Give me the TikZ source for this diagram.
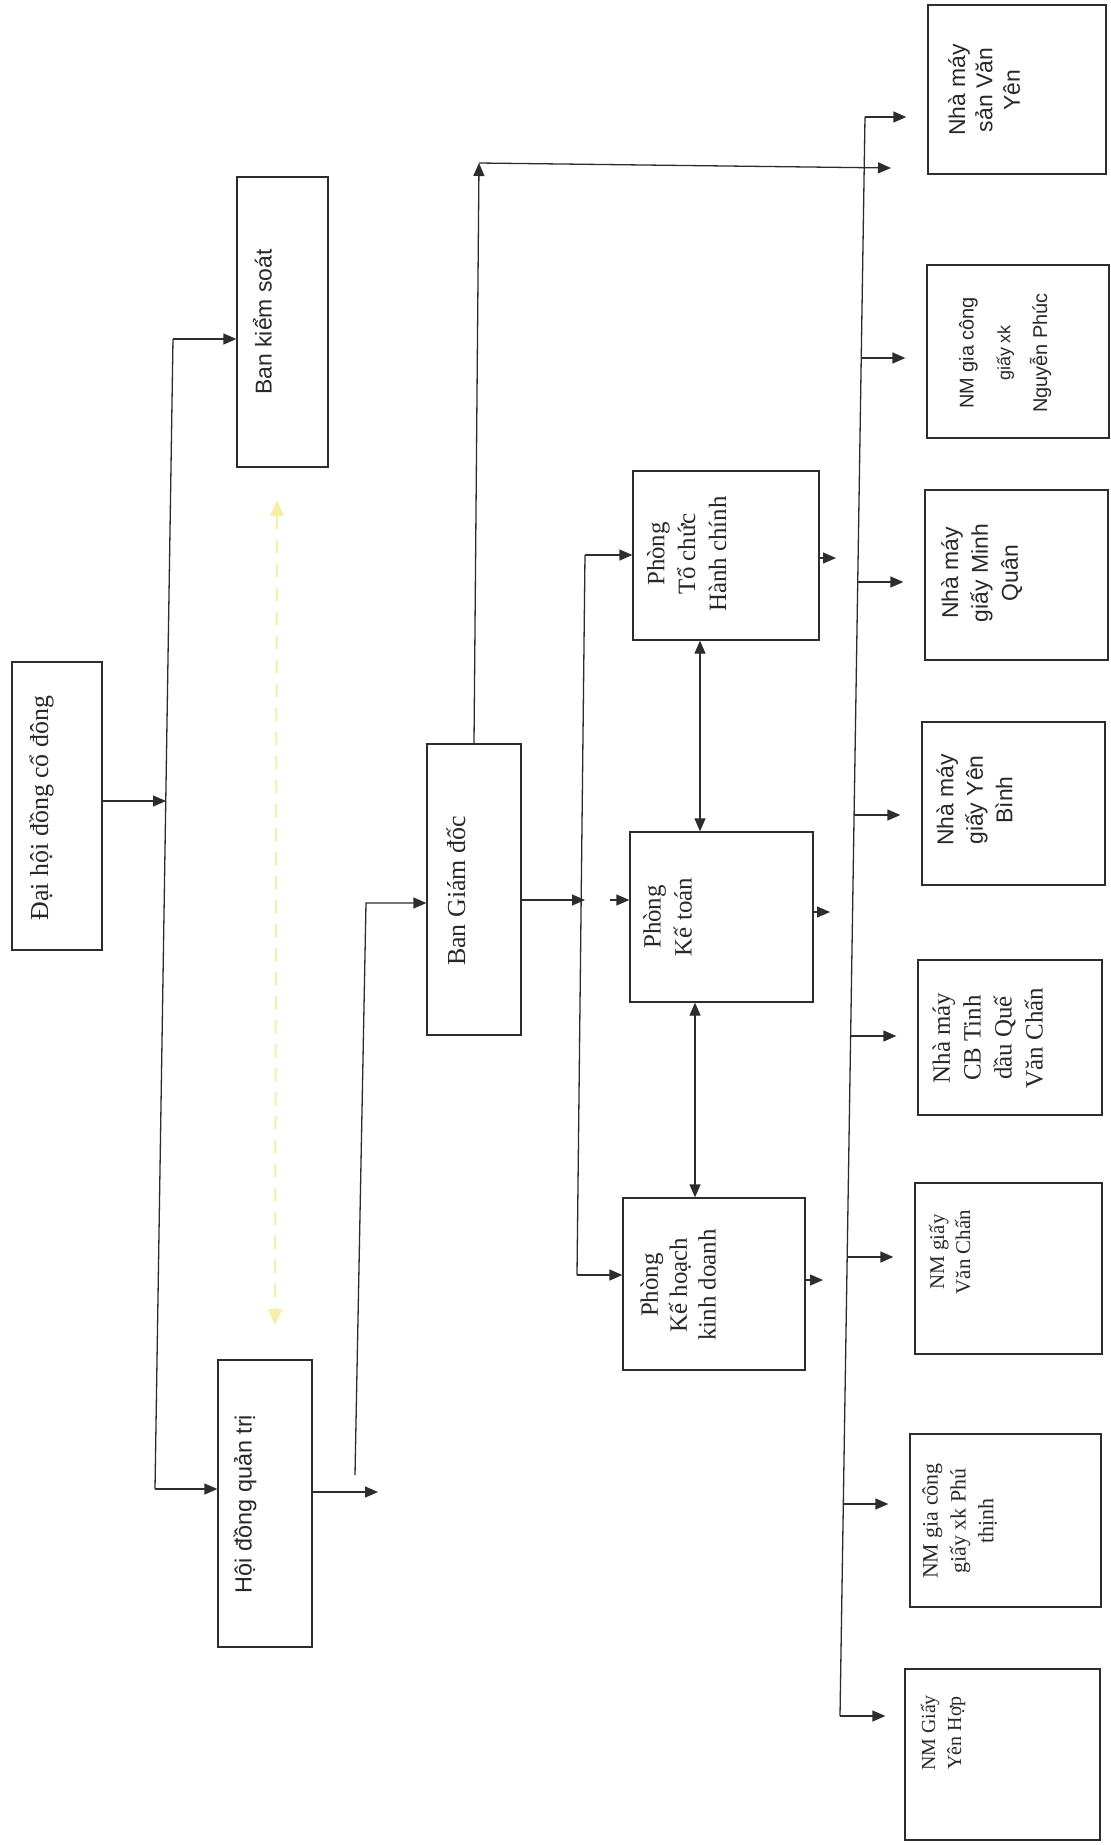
\documentclass[tikz,border=0pt]{standalone}
\usepackage{fontspec}
\setmainfont{Liberation Serif}
\newfontfamily\sansf{Liberation Sans}
\usepackage{graphicx}
\usetikzlibrary{arrows.meta}
\definecolor{ln}{RGB}{45,45,45}
\definecolor{tx}{RGB}{40,40,40}
\definecolor{faintc}{RGB}{246,238,170}
\tikzset{
  box/.style={draw=ln, line width=1.3bp, inner sep=0pt},
  lbl/.style={inner sep=0pt, text=tx},
  conn/.style={draw=ln, line width=1.3bp},
  arr/.style={conn, -{Triangle[length=13bp,width=11bp]}},
  darr/.style={conn, {Triangle[length=13bp,width=11bp]}-{Triangle[length=13bp,width=11bp]}},
  faintarr/.style={draw=faintc, line width=2bp, dash pattern=on 14bp off 10bp,
    {Triangle[length=16bp,width=14bp]}-{Triangle[length=16bp,width=14bp]}},
}
\newcommand{\rottxt}[2]{\rotatebox{90}{#1\begin{tabular}{@{}c@{}}#2\end{tabular}}}
\begin{document}
\begin{tikzpicture}[x=1bp,y=-1bp]
\useasboundingbox[fill=white] (0,0) rectangle (1110,1845);

% ---- left column
\node[box,minimum width=90bp,minimum height=288bp] (dhcd) at (57,806) {};
\node[lbl] (dhcdT) at (42,808) {\rottxt{\fontsize{26}{31}\selectfont}{Đại hội đồng cổ đông}};

\node[box,minimum width=91bp,minimum height=290bp] (bks) at (282.5,322) {};
\node[lbl] (bksT) at (266,322) {\rottxt{\sansf\fontsize{23}{28}\selectfont}{Ban kiểm soát}};

\node[box,minimum width=94bp,minimum height=287bp] (hdqt) at (265,1503.5) {};
\node[lbl] (hdqtT) at (246,1504) {\rottxt{\sansf\fontsize{23.5}{28}\selectfont}{Hội đồng quản trị}};

\node[box,minimum width=94bp,minimum height=291bp] (bgd) at (474,889.5) {};
\node[lbl] (bgdT) at (459,891) {\rottxt{\fontsize{26}{31}\selectfont}{Ban Giám đốc}};

% ---- departments
\node[box,minimum width=186bp,minimum height=169bp] (tchc) at (726,555.5) {};
\node[lbl] (tchcT) at (689,554) {\rottxt{\fontsize{25}{31}\selectfont}{Phòng\\Tổ chức\\Hành chính}};

\node[box,minimum width=183bp,minimum height=170bp] (kt) at (721.5,917) {};
\node[lbl] (ktT) at (670,917) {\rottxt{\fontsize{25}{31}\selectfont}{Phòng\\Kế toán}};

\node[box,minimum width=182bp,minimum height=172bp] (khkd) at (714,1284) {};
\node[lbl] (khkdT) at (681,1285) {\rottxt{\fontsize{25}{29}\selectfont}{Phòng\\Kế hoạch\\kinh doanh}};

% ---- factories
\node[box,minimum width=178bp,minimum height=169bp] (f1) at (1017,89.5) {};
\node[lbl] (f1T) at (987,90) {\rottxt{\sansf\fontsize{23}{27.5}\selectfont}{Nhà máy\\sản Văn\\Yên}};

\node[box,minimum width=182bp,minimum height=173bp] (f2) at (1018,351.5) {};
\node[lbl] (f2T) at (1003,353) {\rottxt{\sansf\fontsize{20}{37}\selectfont}{NM gia công\\{\fontsize{18}{20}\selectfont giấy xk}\\Nguyễn Phúc}};

\node[box,minimum width=183bp,minimum height=170bp] (f3) at (1016.5,575) {};
\node[lbl] (f3T) at (982,573) {\rottxt{\sansf\fontsize{23}{30}\selectfont}{Nhà máy\\giấy Minh\\Quân}};

\node[box,minimum width=183bp,minimum height=163bp] (f4) at (1013.5,803.5) {};
\node[lbl] (f4T) at (977,800) {\rottxt{\sansf\fontsize{23}{29.5}\selectfont}{Nhà máy\\giấy Yên\\Bình}};

\node[box,minimum width=184bp,minimum height=155bp] (f5) at (1010,1037.5) {};
\node[lbl] (f5T) at (990,1038) {\rottxt{\fontsize{25}{31}\selectfont}{Nhà máy\\CB Tinh\\dầu Quế\\Văn Chấn}};

\node[box,minimum width=187bp,minimum height=171bp] (f6) at (1008.5,1268.5) {};
\node[lbl] (f6T) at (952,1252) {\rottxt{\fontsize{21}{26}\selectfont}{NM giấy\\Văn Chấn}};

\node[box,minimum width=191bp,minimum height=173bp] (f7) at (1005.5,1520.5) {};
\node[lbl] (f7T) at (960,1521) {\rottxt{\fontsize{22}{28}\selectfont}{NM gia công\\giấy xk Phú\\thịnh}};

\node[box,minimum width=195bp,minimum height=171bp] (f8) at (1002.5,1754.5) {};
\node[lbl] (f8T) at (943,1733) {\rottxt{\fontsize{20}{26}\selectfont}{NM Giấy\\Yên Hợp}};

% ---- left bus
\coordinate (lbTop) at (173,339);
\coordinate (lbBot) at (155,1489);
\coordinate (lbMid) at (166,801);
\draw[conn] (lbTop) -- (lbBot);
\draw[arr] (dhcd.east |- lbMid) -- (lbMid);
\draw[arr] (lbTop) -- (bks.west |- lbTop);
\draw[arr] (lbBot) -- (hdqt.west |- lbBot);

% faint dashed link between Ban kiểm soát and Hội đồng quản trị
\coordinate (fA) at (277,500);
\coordinate (fB) at (275,1325);
\draw[faintarr] (fA) -- (fB);

% ---- HĐQT to BGĐ
\coordinate (hq1) at (378,1492);
\draw[arr] (hdqt.east |- hq1) -- (hq1);
\coordinate (v1) at (355,1475);
\coordinate (v2) at (366,903);
\draw[arr] (v1) -- (v2) -- (bgd.west |- v2);

% ---- BGĐ top line to factories
\coordinate (bt) at (479,163);
\coordinate (bt2) at (891,168);
\draw[arr] (bgd.north) -- (bt);
\draw[arr] (bt) -- (bt2);

% ---- sub bus for departments
\coordinate (sbTop) at (585,555);
\coordinate (sbBot) at (577,1275);
\coordinate (sbMid) at (585,900);
\draw[conn] (sbTop) -- (sbBot);
\draw[arr] (bgd.east |- sbMid) -- (sbMid);
\draw[arr] (sbTop) -- (tchc.west |- sbTop);
\draw[arr] (sbBot) -- (khkd.west |- sbBot);
\coordinate (ktIn) at (610,900);
\draw[arr] (ktIn) -- (kt.west |- ktIn);

% ---- double arrows between departments
\coordinate (xa) at (700,0);
\coordinate (xb) at (695,0);
\draw[darr] (tchc.south -| xa) -- (kt.north -| xa);
\draw[darr] (kt.south -| xb) -- (khkd.north -| xb);

% ---- department outputs
\coordinate (o1) at (836,558);
\coordinate (o2) at (830,912);
\coordinate (o3) at (823,1280);
\draw[arr] (tchc.east |- o1) -- (o1);
\draw[arr] (kt.east |- o2) -- (o2);
\draw[arr] (khkd.east |- o3) -- (o3);

% ---- right bus to factories
\coordinate (rbTop) at (865,117);
\coordinate (rbBot) at (840,1716);
\draw[conn] (rbTop) -- (rbBot);
\coordinate (r2) at (861,358);
\coordinate (r3) at (858,582);
\coordinate (r4) at (854,815);
\coordinate (r5) at (851,1036);
\coordinate (r6) at (847,1257);
\coordinate (r7) at (843,1504);
\draw[arr, shorten >=21bp] (rbTop) -- (f1.west |- rbTop);
\draw[arr, shorten >=21bp] (r2) -- (f2.west |- r2);
\draw[arr, shorten >=21bp] (r3) -- (f3.west |- r3);
\draw[arr, shorten >=21bp] (r4) -- (f4.west |- r4);
\draw[arr, shorten >=21bp] (r5) -- (f5.west |- r5);
\draw[arr, shorten >=21bp] (r6) -- (f6.west |- r6);
\draw[arr, shorten >=21bp] (r7) -- (f7.west |- r7);
\draw[arr, shorten >=19bp] (rbBot) -- (f8.west |- rbBot);
\end{tikzpicture}
\end{document}
